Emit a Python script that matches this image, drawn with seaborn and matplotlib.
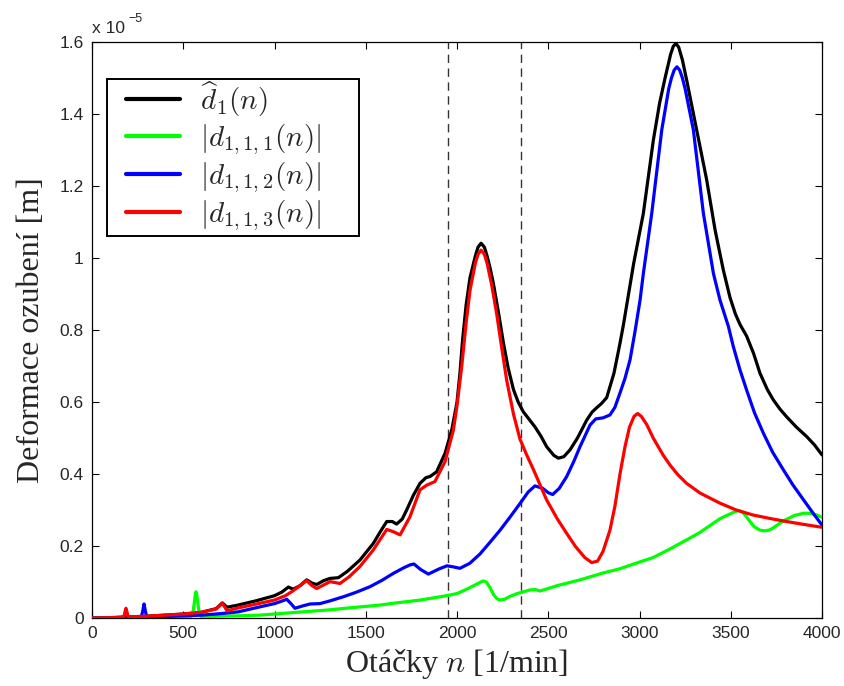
import matplotlib
matplotlib.use('Agg')
import matplotlib.pyplot as plt
import seaborn as sns
import pandas as pd
from matplotlib.patches import Rectangle
from matplotlib.ticker import FuncFormatter, MultipleLocator

# otacky n [1/min] / deformace [x 1e-5 m]
n_hat = [0, 100, 200, 300, 400, 500, 600, 680, 714, 740, 800, 900, 1000, 1040, 1076, 1103, 1140,
         1176, 1205, 1231, 1270, 1304, 1350, 1400, 1468, 1541, 1580, 1615, 1645, 1669, 1700, 1724,
         1760, 1797, 1830, 1852, 1888, 1934, 1971, 2000, 2016, 2030, 2050, 2071, 2100, 2115, 2132,
         2150, 2165, 2180, 2199, 2230, 2254, 2280, 2309, 2335, 2363, 2395, 2427, 2460, 2491, 2530,
         2555, 2585, 2619, 2660, 2711, 2740, 2765, 2790, 2820, 2860, 2893, 2912, 2940, 2968, 3021,
         3076, 3110, 3140, 3170, 3185, 3200, 3215, 3235, 3260, 3313, 3368, 3414, 3459, 3496, 3525,
         3551, 3587, 3625, 3660, 3700, 3733, 3770, 3806, 3860, 3916, 3960, 4000]
d_hat = [0, 0.001, 0.003, 0.005, 0.008, 0.011, 0.016, 0.026, 0.042, 0.03, 0.036, 0.048, 0.062,
         0.072, 0.086, 0.08, 0.09, 0.106, 0.097, 0.093, 0.104, 0.11, 0.112, 0.13, 0.161, 0.207,
         0.24, 0.268, 0.268, 0.261, 0.275, 0.3, 0.34, 0.374, 0.39, 0.393, 0.406, 0.457, 0.522,
         0.6, 0.68, 0.77, 0.87, 0.945, 1.005, 1.03, 1.041, 1.03, 1.005, 0.975, 0.93, 0.84, 0.765,
         0.695, 0.635, 0.6, 0.573, 0.552, 0.531, 0.505, 0.476, 0.452, 0.444, 0.448, 0.467, 0.5,
         0.55, 0.572, 0.584, 0.595, 0.612, 0.68, 0.763, 0.815, 0.9, 0.985, 1.124, 1.328, 1.43, 1.5,
         1.565, 1.588, 1.596, 1.585, 1.55, 1.49, 1.356, 1.217, 1.078, 0.967, 0.89, 0.845, 0.815,
         0.783, 0.735, 0.68, 0.635, 0.606, 0.58, 0.559, 0.53, 0.504, 0.48, 0.453]

n_111 = [0, 500, 540, 552, 560, 566, 570, 574, 580, 588, 600, 700, 800, 920, 1100, 1286, 1450,
         1578, 1651, 1800, 1943, 2000, 2053, 2100, 2130, 2144, 2160, 2180, 2200, 2220, 2236, 2260,
         2290, 2330, 2400, 2430, 2455, 2550, 2674, 2800, 2893, 3003, 3075, 3160, 3258, 3332, 3441,
         3500, 3525, 3545, 3565, 3585, 3605, 3630, 3660, 3688, 3715, 3740, 3789, 3850, 3900, 3930,
         3965, 4000]
d_111 = [0, 0.0, 0.002, 0.012, 0.04, 0.065, 0.073, 0.065, 0.04, 0.012, 0.003, 0.005, 0.006, 0.008,
         0.015, 0.022, 0.03, 0.036, 0.041, 0.05, 0.062, 0.068, 0.08, 0.092, 0.1, 0.103, 0.1, 0.085,
         0.065, 0.053, 0.05, 0.052, 0.06, 0.068, 0.078, 0.079, 0.075, 0.09, 0.106, 0.125, 0.137,
         0.156, 0.168, 0.19, 0.217, 0.238, 0.276, 0.29, 0.296, 0.298, 0.294, 0.282, 0.268, 0.253,
         0.244, 0.242, 0.245, 0.253, 0.27, 0.285, 0.291, 0.291, 0.287, 0.28]

n_112 = [0, 200, 270, 278, 285, 292, 300, 400, 500, 600, 700, 800, 920, 1000, 1040, 1067, 1090,
         1112, 1150, 1195, 1249, 1300, 1377, 1450, 1523, 1590, 1651, 1710, 1745, 1764, 1800, 1843,
         1900, 1945, 1980, 2016, 2070, 2126, 2180, 2236, 2290, 2345, 2390, 2427, 2470, 2500, 2524,
         2560, 2601, 2640, 2674, 2729, 2760, 2800, 2838, 2865, 2893, 2920, 2948, 2975, 3003, 3021,
         3067, 3122, 3160, 3175, 3190, 3205, 3220, 3235, 3250, 3295, 3350, 3405, 3441, 3487, 3514,
         3550, 3587, 3630, 3679, 3730, 3789, 3840, 3899, 3950, 4000]
d_112 = [0, 0.001, 0.002, 0.02, 0.039, 0.02, 0.002, 0.004, 0.006, 0.008, 0.012, 0.017, 0.031,
         0.04, 0.047, 0.052, 0.04, 0.027, 0.033, 0.039, 0.04, 0.047, 0.059, 0.072, 0.087, 0.105,
         0.124, 0.14, 0.148, 0.15, 0.135, 0.122, 0.136, 0.145, 0.142, 0.138, 0.152, 0.178, 0.21,
         0.244, 0.28, 0.318, 0.35, 0.367, 0.36, 0.348, 0.343, 0.36, 0.393, 0.435, 0.476, 0.536,
         0.553, 0.556, 0.564, 0.585, 0.625, 0.665, 0.717, 0.795, 0.883, 0.957, 1.124, 1.356, 1.47,
         1.5, 1.522, 1.531, 1.522, 1.5, 1.47, 1.356, 1.124, 0.957, 0.883, 0.81, 0.754, 0.69, 0.633,
         0.57, 0.513, 0.46, 0.411, 0.37, 0.328, 0.292, 0.258]

n_113 = [0, 100, 150, 175, 181, 186, 191, 197, 250, 300, 400, 500, 600, 680, 714, 740, 800, 920,
         1000, 1060, 1100, 1140, 1176, 1205, 1231, 1270, 1304, 1359, 1410, 1468, 1541, 1615, 1650,
         1688, 1742, 1797, 1834, 1879, 1934, 1980, 2000, 2026, 2050, 2071, 2100, 2115, 2132, 2150,
         2165, 2190, 2217, 2245, 2272, 2310, 2345, 2380, 2418, 2455, 2491, 2550, 2601, 2650, 2700,
         2738, 2770, 2800, 2838, 2865, 2893, 2920, 2945, 2970, 2990, 3010, 3040, 3075, 3130, 3167,
         3210, 3258, 3332, 3441, 3530, 3623, 3720, 3806, 3900, 4000]
d_113 = [0, 0.001, 0.002, 0.004, 0.018, 0.027, 0.018, 0.004, 0.004, 0.005, 0.008, 0.011, 0.016,
         0.025, 0.041, 0.02, 0.028, 0.041, 0.05, 0.062, 0.075, 0.09, 0.104, 0.09, 0.082, 0.092,
         0.101, 0.096, 0.115, 0.143, 0.189, 0.246, 0.24, 0.231, 0.281, 0.356, 0.369, 0.379, 0.434,
         0.522, 0.59, 0.7, 0.82, 0.91, 0.985, 1.01, 1.022, 1.01, 0.985, 0.925, 0.846, 0.75, 0.661,
         0.565, 0.497, 0.455, 0.413, 0.37, 0.328, 0.275, 0.235, 0.198, 0.168, 0.154, 0.158, 0.185,
         0.244, 0.31, 0.4, 0.475, 0.53, 0.56, 0.568, 0.56, 0.537, 0.5, 0.452, 0.425, 0.398, 0.374,
         0.347, 0.319, 0.3, 0.286, 0.276, 0.268, 0.26, 0.252]

labels = [r'$\widehat{d}_1(n)$', r'$|d_{1,1,1}(n)|$', r'$|d_{1,1,2}(n)|$', r'$|d_{1,1,3}(n)|$']
colors = ['black', '#00ff00', '#0000ff', '#ff0000']
n_marks = [1950, 2350]

frames = []
for lab, nn, dd in zip(labels, [n_hat, n_111, n_112, n_113], [d_hat, d_111, d_112, d_113]):
    frames.append(pd.DataFrame({'n': nn, 'd': dd, 'serie': lab}))
df = pd.concat(frames, ignore_index=True)

sns.set_style('ticks')
plt.rcParams['font.family'] = ['Liberation Sans', 'DejaVu Sans']
plt.rcParams['mathtext.fontset'] = 'cm'
plt.rcParams['xtick.direction'] = 'in'
plt.rcParams['ytick.direction'] = 'in'

fig = plt.figure(figsize=(8.45, 6.86), dpi=100)
ax = fig.add_axes([0.1089, 0.0991, 0.8639, 0.8397])

for x in n_marks:
    ax.axvline(x, color='#333333', lw=1.0, ls=(0, (6, 4)), zorder=1)

sns.lineplot(data=df, x='n', y='d', hue='serie', hue_order=labels, palette=colors,
             estimator=None, lw=2.3, ax=ax, zorder=3)

ax.set_xlim(0, 4000)
ax.set_ylim(0, 1.6)
ax.xaxis.set_major_locator(MultipleLocator(500))
ax.yaxis.set_major_locator(MultipleLocator(0.2))
ax.yaxis.set_major_formatter(FuncFormatter(lambda v, p: '%g' % round(v, 2)))
ax.tick_params(which='both', top=True, right=True, length=5, width=0.8, labelsize=12.5,
               color='black', pad=6)
for s in ax.spines.values():
    s.set_linewidth(0.9)
    s.set_color('black')

ax.set_xlabel(r'Otáčky $n$ [1/min]', fontsize=23, family='Liberation Serif', labelpad=4)
ax.set_ylabel('Deformace ozubení [m]', fontsize=23, family='Liberation Serif', labelpad=10)

# ramecek legendy zvlast (MATLAB styl - vetsi okraje vpravo)
box = Rectangle((0.0205, 0.663), 0.3453, 0.273, transform=ax.transAxes, facecolor='white',
                edgecolor='black', lw=1.4, zorder=4)
ax.add_patch(box)

h, l = ax.get_legend_handles_labels()
leg = ax.legend(h, l, loc='upper left', bbox_to_anchor=(0.0466, 0.936), borderaxespad=0,
                fontsize=21, frameon=False, handlelength=1.85, labelspacing=0.12,
                borderpad=0, handletextpad=0.7)
leg.set_zorder(5)
for line in leg.get_lines():
    line.set_linewidth(3)

fig.text(0.1089, 0.9519, 'x 10', fontsize=12.5, va='baseline')
fig.text(0.152, 0.968, '−5', fontsize=9, va='baseline')

fig.savefig('out.png', dpi=100)
